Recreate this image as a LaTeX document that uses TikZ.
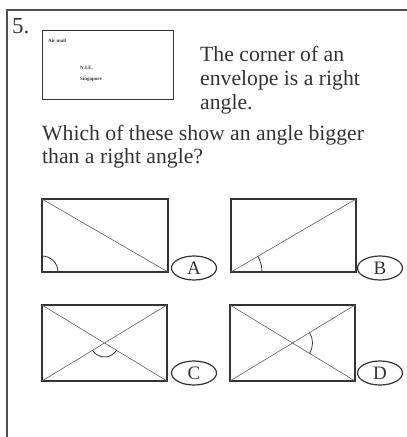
\documentclass[tikz,border=0pt]{standalone}
\usepackage{fontspec}
\setmainfont{Liberation Serif}
\usetikzlibrary{shapes.geometric,calc}
\definecolor{ink}{HTML}{333333}
\definecolor{framecol}{HTML}{505050}
\tikzset{
  txt/.style={anchor=base west, inner sep=0pt, text=ink, font=\fontsize{21.7}{24}\selectfont},
  box/.style={draw=ink, line width=1.3pt},
  diag/.style={draw=ink!80, line width=0.6pt},
  anglemark/.style={draw=ink, line width=0.8pt},
  lab/.style={ellipse, draw=ink, line width=1.2pt, minimum width=45pt, minimum height=24pt, inner sep=0pt, text=ink, font=\fontsize{19}{19}\selectfont},
  tiny/.style={anchor=base west, inner sep=0pt, text=ink, font=\fontsize{5}{5}\selectfont\bfseries}
}
\begin{document}
\begin{tikzpicture}[x=1pt,y=-1pt]
\useasboundingbox (0,0) rectangle (407,437);
\fill[white] (0,0) rectangle (407,437);
% frame
\coordinate (ftl) at (7,10);
\coordinate (ftr) at (407,10);
\coordinate (fbl) at (7,437);
\draw[framecol, line width=1.6pt] (ftr) -- (ftl) -- (fbl);
\node[txt, font=\fontsize{23}{24}\selectfont] (num) at (12,33) {5.};
% envelope
\node[box, minimum width=131pt, minimum height=69pt, inner sep=0pt, anchor=north west] (env) at (42,30) {};
\node[tiny] (air) at (48,42) {Air mail};
\node[tiny] (nie) at (80,69) {N.I.E.};
\node[tiny] (sg) at (80,80) {Singapore};
% question text
\node[txt] (l1) at (200,61) {The corner of an};
\node[txt] (l2) at (200,85) {envelope is a right};
\node[txt] (l3) at (200,109) {angle.};
\node[txt] (l4) at (42,140) {Which of these show an angle bigger};
\node[txt] (l5) at (42,163) {than a right angle?};
% A
\coordinate (a1) at (42,199); \coordinate (a2) at (168,199);
\coordinate (a3) at (168,272); \coordinate (a4) at (42,272);
\draw[box] (a1) rectangle (a3);
\draw[diag] (a1) -- (a3);
\draw[anglemark] ($(a4)+(16,0)$) arc[start angle=0, end angle=-90, radius=16];
\node[lab] (A) at (194,268) {A};
% B
\coordinate (b1) at (231,199); \coordinate (b3) at (356,272);
\coordinate (b4) at (231,272); \coordinate (b2) at (356,199);
\draw[box] (b1) rectangle (b3);
\draw[diag] (b4) -- (b2);
\draw[anglemark] ($(b4)+(31,0)$) arc[start angle=0, end angle=-30.3, radius=31];
\node[lab] (B) at (380,268) {B};
% C
\coordinate (c1) at (42,305); \coordinate (c2) at (167,305);
\coordinate (c3) at (167,381); \coordinate (c4) at (42,381);
\draw[box] (c1) rectangle (c3);
\draw[diag] (c1) -- (c3);
\draw[diag] (c4) -- (c2);
\coordinate (cm) at (104.5,343);
\draw[anglemark] ($(cm)+(-31.3:-14)$) arc[start angle=148.7, end angle=31.3, radius=14];
\node[lab] (C) at (194,373) {C};
% D
\coordinate (d1) at (230,305); \coordinate (d2) at (355,305);
\coordinate (d3) at (355,381); \coordinate (d4) at (230,381);
\draw[box] (d1) rectangle (d3);
\draw[diag] (d1) -- (d3);
\draw[diag] (d4) -- (d2);
\coordinate (dm) at (292.5,343);
\draw[anglemark] ($(dm)+(31.3:20)$) arc[start angle=31.3, end angle=-31.3, radius=20];
\node[lab] (D) at (380,373) {D};
\end{tikzpicture}
\end{document}
